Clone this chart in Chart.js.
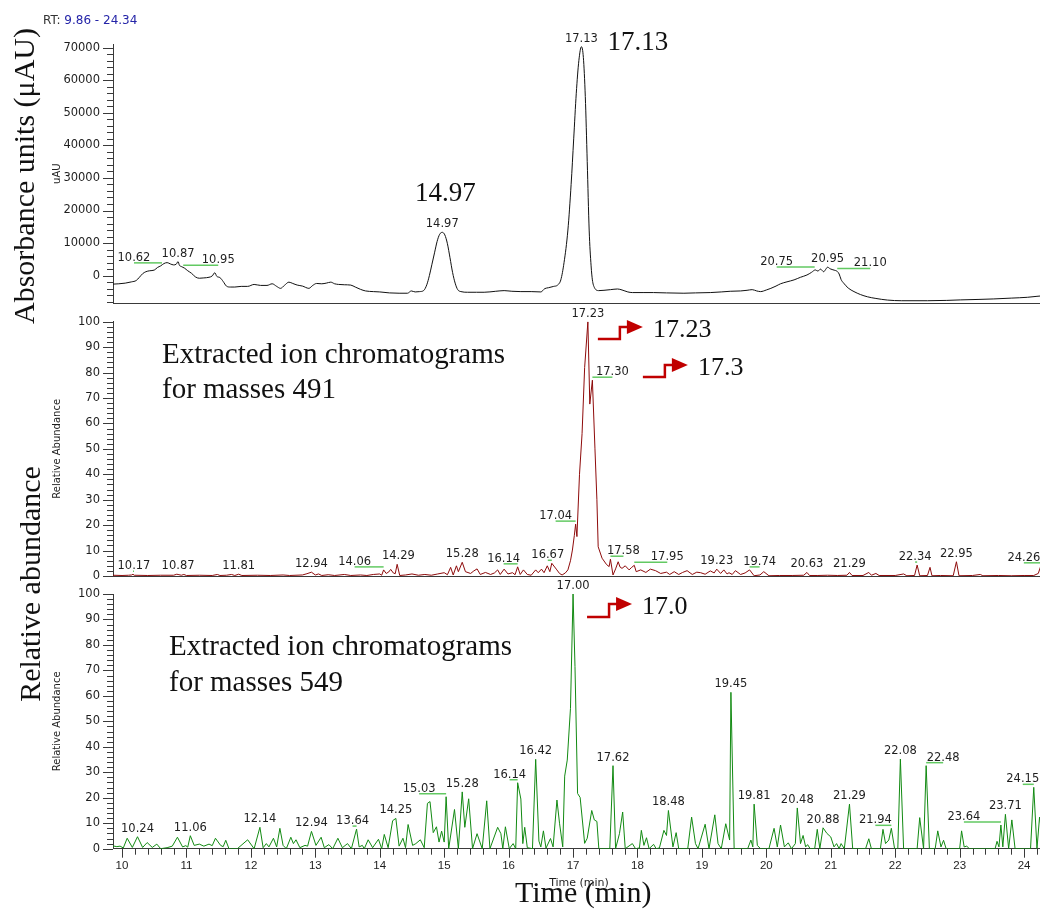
<!DOCTYPE html>
<html lang="en">
<head>
<meta charset="UTF-8" />
<title>UV and extracted ion chromatograms</title>
<script src="https://cdn.jsdelivr.net/npm/chart.js"></script>
<style>
  html, body { margin: 0; padding: 0; background: #fff; overflow: hidden; }
  #wrap { position: relative; width: 1040px; height: 909px; overflow: hidden; }
  #wrap canvas { position: absolute; left: 0; top: 0; }
</style>
</head>
<body>
<div id="wrap">
  <canvas id="uvChart" width="1050" height="909"></canvas>
  <canvas id="ion491Chart" width="1050" height="909"></canvas>
  <canvas id="ion549Chart" width="1050" height="909"></canvas>
</div>
<script>
// retention time window and tick values
const RT_START = 9.86, RT_END = 24.34;
const timeTicks = [10, 11, 12, 13, 14, 15, 16, 17, 18, 19, 20, 21, 22, 23, 24];
const uvTicks = [0, 10000, 20000, 30000, 40000, 50000, 60000, 70000];
const abundanceTicks = [0, 10, 20, 30, 40, 50, 60, 70, 80, 90, 100];

// UV trace (uAU)
const uvTime = [9.86, 9.95, 10.05, 10.15, 10.22, 10.27, 10.32, 10.37, 10.43, 10.50, 10.55, 10.60, 10.65, 10.70, 10.75,
  10.80, 10.84, 10.87, 10.89, 10.92, 10.97, 11.02, 11.08, 11.14, 11.20, 11.27, 11.35, 11.40, 11.44, 11.47, 11.52,
  11.57, 11.62, 11.68, 11.75, 11.85, 11.95, 12.05, 12.15, 12.25, 12.33, 12.40, 12.46, 12.52, 12.59, 12.65, 12.72,
  12.80, 12.90, 12.96, 13.02, 13.10, 13.17, 13.24, 13.30, 13.36, 13.45, 13.55, 13.62, 13.70, 13.78, 13.90, 14.00,
  14.15, 14.30, 14.43, 14.49, 14.55, 14.62, 14.68, 14.73, 14.77, 14.81, 14.85, 14.89, 14.93, 14.97, 15.01, 15.05,
  15.09, 15.13, 15.17, 15.21, 15.26, 15.36, 15.50, 15.62, 15.80, 15.93, 16.05, 16.19, 16.35, 16.50, 16.56, 16.62,
  16.70, 16.76, 16.81, 16.86, 16.92, 16.97, 17.01, 17.05, 17.09, 17.13, 17.16, 17.19, 17.22, 17.25, 17.28, 17.30,
  17.33, 17.40, 17.48, 17.58, 17.69, 17.76, 17.85, 17.92, 18.10, 18.25, 18.45, 18.72, 18.90, 19.13, 19.30, 19.44,
  19.60, 19.70, 19.78, 19.85, 19.91, 20.00, 20.07, 20.15, 20.22, 20.32, 20.43, 20.53, 20.63, 20.70, 20.76, 20.80,
  20.84, 20.89, 20.92, 20.95, 20.99, 21.05, 21.10, 21.13, 21.16, 21.20, 21.27, 21.36, 21.46, 21.57, 21.70, 21.88,
  22.10, 22.50, 22.80, 23.01, 23.30, 23.53, 23.80, 24.05, 24.20, 24.34];
const uvSignal = [-2600, -2500, -2300, -1900, -1500, -500, 600, 1200, 1500, 1700, 2500, 3000, 3700, 4000, 3600,
  3300, 3500, 4300, 3200, 2800, 2300, 1500, 700, -400, -800, -700, -500, -100, 900, -200, -600,
  -1800, -3200, -3500, -3500, -3300, -3300, -2700, -3000, -3000, -2500, -3300, -3900, -3000, -2000, -2400, -2900,
  -3200, -3900, -3000, -2400, -2500, -2300, -2000, -2500, -2700, -2800, -2900, -3500, -4200, -4700, -4900, -5000,
  -5300, -5400, -5400, -4700, -5000, -4900, -4600, -2800, 0, 3500, 7000, 10500, 12700, 13300, 12500, 9800,
  5500, 1000, -2300, -4300, -4900, -5100, -5100, -5100, -4800, -4600, -4800, -4900, -4900, -5000, -4000, -3700,
  -3300, -2900, -1300, 4000, 14000, 28000, 42000, 56000, 66000, 70300, 67000, 55000, 35000, 14000, 3000, -1300,
  -3600, -4600, -4500, -4300, -4100, -4400, -5000, -5200, -5200, -5200, -5300, -5400, -5300, -5200, -5000, -4800,
  -4700, -4500, -4300, -4700, -4900, -4400, -3900, -3200, -2500, -1900, -1300, -500, 200, 1000, 1750, 1400,
  2000, 1200, 1900, 2600, 2100, 1700, 1300, 500, -1200, -2300, -3800, -4900, -5800, -6500, -7000, -7500,
  -7700, -7700, -7600, -7450, -7300, -7150, -6900, -6650, -6350, -6100];

// extracted ion chromatogram, m/z 491 (relative abundance)
const ion491Time = [9.86, 10.00, 10.10, 10.15, 10.17, 10.19, 10.40, 10.60, 10.80, 10.85, 10.87, 10.92, 10.96, 11.00,
  11.20, 11.40, 11.48, 11.52, 11.62, 11.70, 11.75, 11.81, 11.86, 12.10, 12.30, 12.50, 12.60, 12.80, 12.87, 12.94,
  13.00, 13.05, 13.10, 13.20, 13.30, 13.45, 13.55, 13.70, 13.80, 13.90, 14.00, 14.03, 14.06, 14.10, 14.14, 14.17,
  14.21, 14.24, 14.27, 14.31, 14.40, 14.50, 14.60, 14.70, 14.80, 14.90, 15.00, 15.05, 15.10, 15.14, 15.19, 15.22,
  15.28, 15.33, 15.41, 15.46, 15.51, 15.56, 15.64, 15.72, 15.78, 15.83, 15.87, 15.93, 15.99, 16.06, 16.10, 16.14,
  16.18, 16.23, 16.29, 16.35, 16.42, 16.46, 16.51, 16.55, 16.60, 16.64, 16.67, 16.74, 16.79, 16.83, 16.88, 16.92,
  16.96, 16.99, 17.02, 17.04, 17.06, 17.10, 17.14, 17.18, 17.23, 17.26, 17.30, 17.34, 17.37, 17.39, 17.45, 17.52,
  17.56, 17.58, 17.62, 17.66, 17.70, 17.73, 17.76, 17.81, 17.87, 17.91, 17.95, 17.98, 18.05, 18.13, 18.20, 18.28,
  18.36, 18.45, 18.50, 18.57, 18.64, 18.70, 18.77, 18.85, 18.92, 18.98, 19.05, 19.13, 19.19, 19.23, 19.29, 19.34,
  19.39, 19.42, 19.47, 19.52, 19.60, 19.67, 19.74, 19.81, 19.90, 19.96, 20.04, 20.20, 20.40, 20.58, 20.63, 20.67,
  20.80, 20.95, 21.10, 21.25, 21.29, 21.33, 21.50, 21.59, 21.63, 21.70, 21.75, 22.00, 22.13, 22.18, 22.30, 22.34,
  22.38, 22.50, 22.54, 22.57, 22.70, 22.90, 22.95, 22.99, 23.20, 23.32, 23.36, 23.60, 23.80, 24.00, 24.15, 24.22,
  24.26, 24.30, 24.34];
const ion491Abundance = [0.3, 0.2, 0.3, 0.4, 0.7, 0.3, 0.2, 0.3, 0.3, 0.7, 0.6, 0.3, 0.6, 0.2,
  0.3, 0.2, 0.6, 0.2, 0.3, 0.6, 0.2, 0.7, 0.2, 0.3, 0.2, 0.4, 0.2, 0.4, 0.9, 1.5,
  0.4, 0.8, 0.2, 0.5, 0.2, 0.6, 0.2, 0.4, 0.2, 0.6, 0.8, 0.3, 2.4, 1.0, 1.6, 2.6,
  1.2, 0.9, 4.6, 0.2, 0.4, 0.8, 0.3, 0.6, 0.3, 0.8, 1.3, 0.5, 3.4, 0.4, 4.0, 1.7,
  5.4, 1.7, 1.0, 2.0, 2.8, 0.6, 1.4, 0.6, 1.2, 2.4, 0.6, 2.7, 0.8, 1.3, 0.5, 3.6,
  0.6, 2.4, 0.6, 0.3, 2.4, 1.3, 2.7, 1.3, 4.0, 1.7, 5.0, 2.7, 1.0, 0.4, 1.2, 2.4,
  6.0, 10.2, 16.0, 20.4, 15.5, 40.0, 56.0, 82.0, 100, 67.6, 77.0, 50.0, 30.0, 11.5, 7.0, 4.5,
  3.7, 6.6, 0.4, 2.8, 5.6, 3.5, 3.0, 4.0, 2.4, 3.4, 4.2, 1.7, 2.4, 1.4, 2.7, 2.1,
  1.0, 1.5, 0.6, 1.7, 0.6, 1.4, 2.1, 0.6, 1.5, 1.3, 0.7, 2.0, 1.2, 2.7, 1.0, 2.4,
  0.8, 1.3, 0.6, 2.1, 0.6, 1.2, 2.4, 0.1, 0.4, 1.7, 0.1, 0.2, 0.2, 0.3, 1.4, 0.2,
  0.2, 0.3, 0.2, 0.3, 1.4, 0.2, 0.2, 1.4, 0.3, 1.0, 0.2, 0.2, 0.8, 0.1, 0.2, 4.3,
  0.1, 0.2, 3.4, 0.1, 0.2, 0.1, 5.6, 0.1, 0.2, 0.6, 0.1, 0.2, 0.1, 0.2, 0.2, 1.0,
  4.0, 0.8, 0.4];

// extracted ion chromatogram, m/z 549 (relative abundance)
const ion549Time = [9.86, 9.92, 9.97, 10.02, 10.08, 10.16, 10.24, 10.32, 10.39, 10.47, 10.54, 10.60, 10.70, 10.78,
  10.86, 10.94, 10.99, 11.02, 11.06, 11.12, 11.20, 11.27, 11.35, 11.40, 11.45, 11.53, 11.57, 11.61, 11.66, 11.79,
  11.95, 12.05, 12.14, 12.19, 12.24, 12.28, 12.35, 12.40, 12.45, 12.50, 12.55, 12.62, 12.66, 12.70, 12.76, 12.84,
  12.88, 12.94, 13.01, 13.09, 13.14, 13.21, 13.27, 13.35, 13.42, 13.50, 13.56, 13.64, 13.68, 13.73, 13.76, 13.82,
  13.89, 13.98, 14.03, 14.07, 14.13, 14.20, 14.25, 14.30, 14.36, 14.40, 14.44, 14.51, 14.56, 14.63, 14.69, 14.74,
  14.78, 14.83, 14.88, 14.92, 14.96, 15.00, 15.03, 15.07, 15.16, 15.22, 15.28, 15.32, 15.38, 15.44, 15.51, 15.59,
  15.66, 15.71, 15.83, 15.88, 15.91, 15.95, 16.01, 16.07, 16.11, 16.14, 16.19, 16.22, 16.25, 16.29, 16.37, 16.42,
  16.47, 16.50, 16.54, 16.58, 16.65, 16.69, 16.75, 16.79, 16.84, 16.87, 16.91, 16.96, 17.00, 17.03, 17.07, 17.11,
  17.18, 17.22, 17.29, 17.33, 17.37, 17.40, 17.57, 17.62, 17.66, 17.72, 17.77, 17.81, 17.92, 17.97, 18.03, 18.06,
  18.10, 18.14, 18.18, 18.25, 18.29, 18.34, 18.41, 18.45, 18.48, 18.55, 18.60, 18.64, 18.78, 18.84, 18.90, 18.94,
  19.05, 19.11, 19.20, 19.25, 19.30, 19.37, 19.43, 19.45, 19.50, 19.71, 19.76, 19.79, 19.81, 19.86, 19.91, 20.04,
  20.12, 20.17, 20.22, 20.28, 20.34, 20.39, 20.45, 20.48, 20.53, 20.57, 20.61, 20.64, 20.68, 20.75, 20.79, 20.83,
  20.88, 20.94, 21.00, 21.05, 21.09, 21.13, 21.16, 21.21, 21.29, 21.34, 21.54, 21.59, 21.63, 21.77, 21.81, 21.85,
  21.90, 21.94, 21.99, 22.04, 22.08, 22.13, 22.34, 22.38, 22.44, 22.48, 22.53, 22.62, 22.66, 22.71, 22.75, 22.79,
  23.00, 23.03, 23.07, 23.11, 23.15, 23.55, 23.58, 23.61, 23.64, 23.67, 23.71, 23.76, 23.81, 23.86, 24.10, 24.15,
  24.20, 24.24, 24.30, 24.34];
const ion549Abundance = [1.1, 0.8, 1.0, 0.3, 4.1, 0.5, 4.7, 0.5, 2.4, 0.5, 1.8, 0, 0.4, 1.0,
  4.5, 0.7, 1.2, 0.6, 5.1, 1.3, 1.8, 1.0, 1.8, 1.2, 4.1, 1.3, 0.8, 3.3, 0, 0,
  3.5, 0, 8.4, 0.4, 2.0, 0.7, 4.1, 0.7, 8.0, 1.3, 0, 4.5, 2.0, 3.5, 0.4, 1.3,
  1.0, 6.8, 1.3, 4.5, 0.4, 1.6, 0, 4.1, 0.4, 2.0, 0, 7.7, 0.7, 1.3, 0, 3.5,
  0.4, 3.7, 0, 5.6, 0.4, 11.0, 11.9, 1.0, 4.1, 0.4, 9.5, 1.3, 2.0, 3.5, 0.4, 17.8,
  18.5, 6.3, 8.6, 2.6, 6.9, 2.6, 20.4, 0, 15.4, 0, 22.3, 8.4, 19.6, 0, 5.9, 0,
  18.8, 0, 8.4, 5.9, 0, 8.6, 0, 2.0, 0, 25.9, 19.5, 2.0, 8.4, 0.4, 0, 35.1,
  3.0, 0.7, 7.0, 0.2, 4.0, 0.7, 19.1, 10.0, 0.7, 28.5, 34.8, 55.1, 100, 71.5, 21.7, 20.1,
  2.1, 4.1, 15.0, 11.3, 10.7, 0, 0, 32.6, 0, 5.9, 14.4, 0, 2.0, 0, 0.3, 7.2,
  1.3, 4.3, 0, 1.7, 0, 0.3, 7.2, 5.2, 15.0, 0.7, 6.3, 0, 0, 12.4, 2.0, 0,
  9.6, 0, 13.3, 2.0, 0, 9.8, 3.4, 61.4, 0, 0, 3.4, 0.7, 17.5, 1.3, 0, 0,
  8.0, 0.7, 9.3, 0.7, 2.3, 0, 2.0, 16.0, 2.0, 5.2, 0.7, 1.6, 0, 0, 7.6, 0,
  8.2, 6.0, 4.6, 0.7, 2.0, 0, 2.0, 0, 17.5, 0, 0, 3.9, 0, 0, 7.6, 2.0,
  3.4, 8.0, 0, 0, 35.2, 0, 0, 12.2, 0, 32.6, 0, 0, 7.0, 0.7, 3.3, 0,
  0, 7.0, 0.7, 1.0, 0, 0, 2.9, 0.7, 9.3, 0.7, 13.5, 0, 11.3, 0, 0, 24.1,
  0, 12.4, 2.0, 3.0];

// peak labels printed by the data system
const uvPeakLabels = ['10.62', '10.87', '10.95', '14.97', '17.13', '20.75', '20.95', '21.10'];
const ion491PeakLabels = ['10.17', '10.87', '11.81', '12.94', '14.06', '14.29', '15.28', '16.14', '16.67', '17.04',
  '17.23', '17.30', '17.58', '17.95', '19.23', '19.74', '20.63', '21.29', '22.34', '22.95', '24.26'];
const ion549PeakLabels = ['10.24', '11.06', '12.14', '12.94', '13.64', '14.25', '15.03', '15.28', '16.14', '16.42',
  '17.00', '17.62', '18.48', '19.45', '19.81', '20.48', '20.88', '21.29', '21.94', '22.08', '22.48', '23.64',
  '23.71', '24.15'];

// horizontal label offsets (px) where a label is pushed aside, with a leader back to its peak
const uvLabelShift = [-28, 0, 35, 0, 0, -38, 0, 33];
const ion491LabelShift = [1, 0, 0, 0, -29, 0, 0, -14, -4, -20, 0, 20, 13, 33, 0, 10, 0, 0, -2, 0, -17];
const ion549LabelShift = [0, 0, 0, 0, -4, 0, -27, 0, -8, 0, 0, 0, 0, 0, 0, 0, 0, 0, -16, 0, 17, -37, 0, -11];

const CANVAS_W = 1050, CANVAS_H = 909;
const PLOT_LEFT = 113, PLOT_RIGHT = 1046, TIME_AXIS_H = 30;
const AXIS_COLOR = '#3a3a3a', TEXT_COLOR = '#1e1e1e', LEADER_COLOR = '#62c962', ARROW_COLOR = '#c00000';
const SERIF = '"Liberation Serif", "Times New Roman", serif';
const SANS = '"DejaVu Sans", sans-serif';

// largest value recorded right at a labelled retention time
function apexNear(times, values, t) {
  let best = null;
  times.forEach((ti, i) => {
    if (Math.abs(ti - t) <= 0.021 && (best === null || values[i] > best)) best = values[i];
  });
  if (best !== null) return best;
  for (let i = 1; i < times.length; i++) {
    if (times[i] >= t) {
      const f = (t - times[i - 1]) / (times[i] - times[i - 1]);
      return values[i - 1] + f * (values[i] - values[i - 1]);
    }
  }
  return values[values.length - 1];
}

function stepArrow(ctx, textLeft, midY, dropY) {
  ctx.save();
  ctx.strokeStyle = ARROW_COLOR;
  ctx.fillStyle = ARROW_COLOR;
  ctx.lineWidth = 2.5;
  ctx.beginPath();
  ctx.moveTo(textLeft - 55, midY + dropY);
  ctx.lineTo(textLeft - 33, midY + dropY);
  ctx.lineTo(textLeft - 33, midY);
  ctx.lineTo(textLeft - 24, midY);
  ctx.stroke();
  ctx.beginPath();
  ctx.moveTo(textLeft - 26, midY - 7);
  ctx.lineTo(textLeft - 10, midY);
  ctx.lineTo(textLeft - 26, midY + 7);
  ctx.closePath();
  ctx.fill();
  ctx.restore();
}

function decorPlugin(p) {
  return {
    id: 'decor_' + p.name,
    afterDraw(chart) {
      const { ctx, chartArea: a, scales: { x, y } } = chart;
      ctx.save();

      // minor and major tick marks
      ctx.strokeStyle = AXIS_COLOR;
      ctx.lineWidth = 1;
      ctx.beginPath();
      const kFrom = Math.ceil(p.yMin / p.yMinor - 1e-9), kTo = Math.floor(p.yMax / p.yMinor + 1e-9);
      for (let k = kFrom; k <= kTo; k++) {
        const v = k * p.yMinor;
        const py = Math.round(y.getPixelForValue(v)) + 0.5;
        const len = p.yTicks.includes(v) ? 10 : 6;
        ctx.moveTo(a.left - len, py);
        ctx.lineTo(a.left, py);
      }
      if (p.timeAxis) {
        for (let k = Math.ceil(RT_START / 0.2); k <= Math.floor(RT_END / 0.2); k++) {
          const px = Math.round(x.getPixelForValue(k * 0.2)) + 0.5;
          const len = k % 5 === 0 ? 9 : 6;
          ctx.moveTo(px, a.bottom);
          ctx.lineTo(px, a.bottom + len);
        }
      }
      ctx.stroke();

      // peak labels
      ctx.font = '11.5px ' + SANS;
      ctx.textAlign = 'center';
      ctx.textBaseline = 'middle';
      p.labels.forEach((txt, i) => {
        const t = parseFloat(txt);
        const px = x.getPixelForValue(t);
        const py = y.getPixelForValue(apexNear(p.time, p.value, t));
        const shift = p.shifts[i];
        if (shift) {
          ctx.strokeStyle = LEADER_COLOR;
          ctx.lineWidth = 1.5;
          ctx.beginPath();
          ctx.moveTo(px + shift, py - 3);
          ctx.lineTo(px, py - 3);
          ctx.stroke();
        }
        ctx.fillStyle = TEXT_COLOR;
        ctx.fillText(txt, px + shift, py - 8);
      });

      // small instrument axis caption
      ctx.save();
      ctx.translate(57, (a.top + a.bottom) / 2);
      ctx.rotate(-Math.PI / 2);
      ctx.font = '10px ' + SANS;
      ctx.fillStyle = TEXT_COLOR;
      ctx.fillText(p.yCaption, 0, 0);
      ctx.restore();

      if (p.extras) p.extras(ctx, x, y, a);
      ctx.restore();
    }
  };
}

function buildChart(canvasId, p) {
  const points = p.time.map((t, i) => ({ x: t, y: p.value[i] }));
  return new Chart(document.getElementById(canvasId), {
    type: 'line',
    data: {
      datasets: [{
        data: points,
        borderColor: p.color,
        borderWidth: 1,
        pointRadius: 0,
        fill: false,
        tension: p.smooth ? 0.4 : 0,
        cubicInterpolationMode: p.smooth ? 'monotone' : 'default'
      }]
    },
    options: {
      responsive: false,
      animation: false,
      devicePixelRatio: 1,
      events: [],
      layout: {
        padding: {
          left: 0,
          right: CANVAS_W - PLOT_RIGHT,
          top: p.top,
          bottom: CANVAS_H - p.bottom - (p.timeAxis ? TIME_AXIS_H : 0)
        }
      },
      plugins: { legend: { display: false }, tooltip: { enabled: false } },
      scales: {
        x: {
          type: 'linear',
          min: RT_START,
          max: RT_END,
          grid: { display: false, drawTicks: false },
          border: { display: true, color: AXIS_COLOR, width: 1 },
          ticks: {
            display: p.timeAxis,
            autoSkip: false,
            maxRotation: 0,
            padding: 10,
            color: TEXT_COLOR,
            font: { family: '"Liberation Sans", Arial, sans-serif', size: 11.5 }
          },
          afterBuildTicks: s => { s.ticks = timeTicks.map(v => ({ value: v })); },
          afterFit: s => { s.height = p.timeAxis ? TIME_AXIS_H : 0; }
        },
        y: {
          min: p.yMin,
          max: p.yMax,
          grid: { display: false, drawTicks: false },
          border: { display: true, color: AXIS_COLOR, width: 1 },
          ticks: {
            autoSkip: false,
            padding: 13,
            color: TEXT_COLOR,
            font: { family: SANS, size: 11.5 },
            callback: v => String(v)
          },
          afterBuildTicks: s => { s.ticks = p.yTicks.map(v => ({ value: v })); },
          afterFit: s => { s.width = PLOT_LEFT; }
        }
      }
    },
    plugins: [decorPlugin(p)]
  });
}

// UV absorbance panel
buildChart('uvChart', {
  name: 'uv', time: uvTime, value: uvSignal, color: '#111111', smooth: true,
  yMin: -8400, yMax: 71000, yTicks: uvTicks, yMinor: 2000,
  top: 44.4, bottom: 303, timeAxis: false, yCaption: 'uAU',
  labels: uvPeakLabels, shifts: uvLabelShift,
  extras(ctx, x, y) {
    ctx.textAlign = 'left';
    ctx.textBaseline = 'middle';
    ctx.font = '12px ' + SANS;
    ctx.fillStyle = '#333';
    ctx.fillText('RT: ', 43, 21);
    const w = ctx.measureText('RT: ').width;
    ctx.fillStyle = '#2424a8';
    ctx.fillText('9.86 - 24.34', 43 + w, 21);

    ctx.fillStyle = '#111';
    ctx.textBaseline = 'alphabetic';
    ctx.font = '27px ' + SERIF;
    ctx.fillText('17.13', x.getPixelForValue(17.13) + 26, 50);
    ctx.textAlign = 'center';
    ctx.fillText('14.97', x.getPixelForValue(14.97) + 3, 201);

    ctx.save();
    ctx.translate(34, 176);
    ctx.rotate(-Math.PI / 2);
    ctx.font = '30px ' + SERIF;
    ctx.fillText('Absorbance units (\u03bcAU)', 0, 0);
    ctx.restore();
  }
});

// m/z 491 panel
buildChart('ion491Chart', {
  name: 'ion491', time: ion491Time, value: ion491Abundance, color: '#8e0b0b', smooth: false,
  yMin: 0, yMax: 100, yTicks: abundanceTicks, yMinor: 2,
  top: 321.7, bottom: 576, timeAxis: false, yCaption: 'Relative Abundance',
  labels: ion491PeakLabels, shifts: ion491LabelShift,
  extras(ctx, x) {
    ctx.fillStyle = '#111';
    ctx.textAlign = 'left';
    ctx.textBaseline = 'alphabetic';
    ctx.font = '29px ' + SERIF;
    ctx.fillText('Extracted ion chromatograms', 162, 363);
    ctx.fillText('for masses 491', 162, 398);

    ctx.font = '26px ' + SERIF;
    const left1 = x.getPixelForValue(17.23) + 65;
    ctx.fillText('17.23', left1, 337);
    stepArrow(ctx, left1, 327, 12);
    const left2 = left1 + 45;
    ctx.fillText('17.3', left2, 375);
    stepArrow(ctx, left2, 365, 12);
  }
});

// m/z 549 panel with the time axis
buildChart('ion549Chart', {
  name: 'ion549', time: ion549Time, value: ion549Abundance, color: '#128a12', smooth: false,
  yMin: 0, yMax: 100, yTicks: abundanceTicks, yMinor: 2,
  top: 594, bottom: 848.7, timeAxis: true, yCaption: 'Relative Abundance',
  labels: ion549PeakLabels, shifts: ion549LabelShift,
  extras(ctx, x) {
    ctx.fillStyle = '#111';
    ctx.textAlign = 'left';
    ctx.textBaseline = 'alphabetic';
    ctx.font = '29px ' + SERIF;
    ctx.fillText('Extracted ion chromatograms', 169, 655);
    ctx.fillText('for masses 549', 169, 691);

    ctx.font = '26px ' + SERIF;
    const left = x.getPixelForValue(17.0) + 69;
    ctx.fillText('17.0', left, 614);
    stepArrow(ctx, left, 604, 13);

    ctx.textAlign = 'center';
    ctx.textBaseline = 'middle';
    ctx.font = '11px ' + SANS;
    ctx.fillStyle = TEXT_COLOR;
    ctx.fillText('Time (min)', 579, 883);
    ctx.fillStyle = '#111';
    ctx.textAlign = 'left';
    ctx.textBaseline = 'alphabetic';
    ctx.font = '30px ' + SERIF;
    ctx.fillText('Time (min)', 515, 902);

    ctx.save();
    ctx.translate(40, 584);
    ctx.rotate(-Math.PI / 2);
    ctx.textAlign = 'center';
    ctx.fillText('Relative abundance', 0, 0);
    ctx.restore();
  }
});
</script>
</body>
</html>
